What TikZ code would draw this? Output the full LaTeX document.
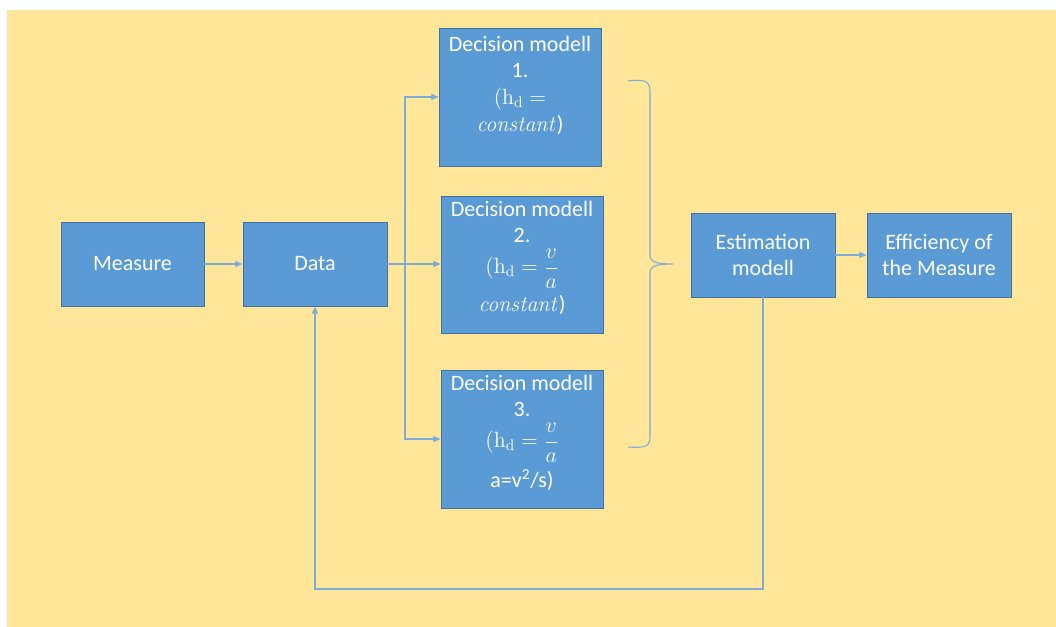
\documentclass[tikz,border=0pt]{standalone}
\usepackage{amsmath}
\usepackage{fix-cm}
\usepackage[no-math]{fontspec}
\setmainfont{Carlito}
\usetikzlibrary{arrows.meta,calc}
\definecolor{bgyellow}{HTML}{FFE699}
\definecolor{boxblue}{HTML}{5B9BD5}
\definecolor{boxedge}{HTML}{41719C}
\definecolor{linkblue}{HTML}{7EACD8}
\tikzset{
  box/.style={draw=boxedge,line width=0.6pt,fill=boxblue,text=white,align=center,inner sep=0pt,font=\fontsize{16.5}{20}\selectfont},
  boxtext/.style={text=white,align=center,inner sep=0pt,anchor=north,font=\fontsize{16.5}{20}\selectfont},
  link/.style={draw=linkblue,line width=0.8pt},
  arr/.style={link,-{Triangle[length=5.5pt,width=4.5pt]}},
}
\newcommand{\hdfrac}{\ensuremath{(\mathrm{h}_{\mathrm{d}} = \dfrac{v}{a}}}
\begin{document}
\begin{tikzpicture}[x=0.75pt,y=-0.75pt]
\useasboundingbox (0,0) rectangle (1056,627);
\fill[white] (0,0) rectangle (1056,627);
\fill[bgyellow] (7,10) rectangle (1056,627);

\node[box,minimum width=107.25pt,minimum height=63pt] (meas) at (132.5,264) {Measure};
\node[box,minimum width=108pt,minimum height=63pt] (data) at (315,264) {Data};
\node[box,minimum width=121.5pt,minimum height=103.5pt] (dm1) at (520,97) {};
\node[box,minimum width=121.5pt,minimum height=102.75pt] (dm2) at (522,264.5) {};
\node[box,minimum width=121.5pt,minimum height=103.5pt] (dm3) at (522,439) {};
\node[box,minimum width=108pt,minimum height=63pt] (est) at (763,255) {Estimation\\modell};
\node[box,minimum width=108pt,minimum height=63pt] (eff) at (939,255) {Efficiency of\\the Measure};

\node[boxtext] (t1) at ($(dm1.north)+(0,8)$) {Decision modell\\1.\\$(\mathrm{h}_{\mathrm{d}} =$\\$\mathit{constant}$)};
\node[boxtext] (t2) at ($(dm2.north)+(0,5)$) {Decision modell\\2.\\[3pt]\hdfrac\\[4pt]$\mathit{constant}$)};
\node[boxtext] (t3) at ($(dm3.north)+(0,5)$) {Decision modell\\3.\\[3pt]\hdfrac\\[4pt]a=v\textsuperscript{2}/s)};

\coordinate (split) at (405,264);
\coordinate (fbL) at (315,589);

\draw[arr] (meas.east) -- (data.west);
\draw[arr] (data.east) -- (data.east -| dm2.west);
\draw[arr] (split) |- (dm1.west);
\draw[arr] (split) |- (dm3.west);
\draw[arr] (est.east) -- (eff.west);
\draw[arr] (est.south) |- (fbL) -- (data.south);

\draw[link] (628,81) .. controls (645,79) and (650,81) .. (650,92) -- (650,255)
  .. controls (650,262) and (656,264) .. (673,264)
  .. controls (656,264) and (650,266) .. (650,273) -- (650,437)
  .. controls (650,447) and (645,448) .. (628,447);
\end{tikzpicture}
\end{document}
